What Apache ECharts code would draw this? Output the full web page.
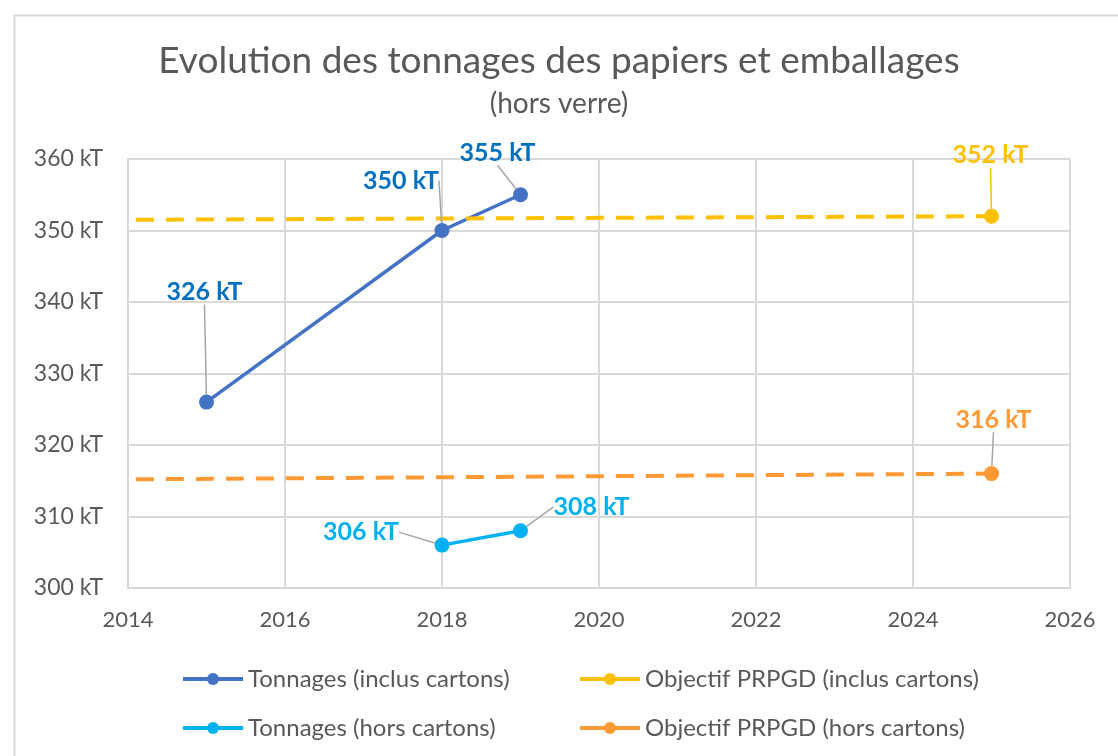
<!DOCTYPE html>
<html><head><meta charset="utf-8">
<script src="https://cdn.jsdelivr.net/npm/echarts@6/dist/echarts.min.js"></script>
<style>html,body{margin:0;padding:0;background:#fff}#c{width:1118px;height:756px}</style>
</head><body><div id="c"></div>
<script>
// ---- data ----
const yearsIncl = [2015, 2018, 2019];
const tonnIncl = [326, 350, 355];
const yearsHors = [2018, 2019];
const tonnHors = [306, 308];
const objYears = [2014.1, 2025];
const objIncl = [351.5, 352];
const objHors = [315.2, 316];
const xTicks = [2014, 2026, 2];
const yTicks = [300, 360, 10];
const names = ['Tonnages (inclus cartons)', 'Objectif PRPGD (inclus cartons)', 'Tonnages (hors cartons)', 'Objectif PRPGD (hors cartons)'];

const FONT = 'Lato';
const gray = '#595959';

function pairs(xs, ys) { return xs.map((x, i) => [x, ys[i]]); }
function objData(ys) {
  return objYears.map((x, i) => i === 0
    ? { value: [x, ys[i]], symbol: 'none', label: { show: false }, labelLine: { show: false } }
    : { value: [x, ys[i]] });
}
function lbl(color) {
  return { show: true, position: 'inside', color: color, fontFamily: FONT, fontWeight: 'bold', fontSize: 25,
    formatter: p => p.value[1] + ' kT' };
}
function layoutFn(offs) {
  return function (p) { const o = offs[p.dataIndex]; return o ? { dx: o[0], dy: o[1] } : {}; };
}
const leader = { show: true, lineStyle: { color: '#a6a6a6', width: 1.5 } };
const legendText = { fontFamily: FONT, fontSize: 24, color: gray };

const chart = echarts.init(document.getElementById('c'), null, { renderer: 'canvas' });
chart.setOption({
  animation: false,
  backgroundColor: '#fff',
  graphic: [{ type: 'rect', left: 12, top: 13, shape: { width: 1200, height: 800 }, style: { fill: 'none', stroke: '#d9d9d9', lineWidth: 2 } }],
  title: [
    { text: 'Evolution des tonnages des papiers et emballages', left: 'center', top: 43, padding: 0, textStyle: { fontFamily: FONT, fontWeight: 'normal', fontSize: 37, color: gray } },
    { text: '(hors verre)', left: 'center', top: 90, padding: 0, textStyle: { fontFamily: FONT, fontWeight: 'normal', fontSize: 28, color: gray } }
  ],
  legend: [
    { data: [names[0], names[2]], orient: 'vertical', left: 181, top: 667, padding: 0, itemGap: 25, itemWidth: 60, itemHeight: 15,
      lineStyle: { type: 'solid', width: 4 }, textStyle: legendText },
    { data: [names[1], names[3]], orient: 'vertical', left: 578, top: 667, padding: 0, itemGap: 25, itemWidth: 60, itemHeight: 15,
      lineStyle: { type: 'solid', width: 4 }, textStyle: legendText }
  ],
  grid: { left: 128, right: 48, top: 159, bottom: 168, containLabel: false },
  xAxis: {
    type: 'value', min: xTicks[0], max: xTicks[1], interval: xTicks[2],
    axisLine: { show: true, lineStyle: { color: '#d9d9d9', width: 2 } },
    axisTick: { show: false },
    splitLine: { show: true, lineStyle: { color: '#d9d9d9', width: 2 } },
    axisLabel: { fontFamily: FONT, fontSize: 22, color: gray, margin: 21, formatter: v => String(v) }
  },
  yAxis: {
    type: 'value', min: yTicks[0], max: yTicks[1], interval: yTicks[2],
    axisLine: { show: true, lineStyle: { color: '#d9d9d9', width: 2 } },
    axisTick: { show: false },
    splitLine: { show: true, lineStyle: { color: '#d9d9d9', width: 2 } },
    axisLabel: { fontFamily: FONT, fontSize: 23, color: gray, margin: 25, formatter: v => v + ' kT' }
  },
  series: [
    { name: names[0], type: 'line', data: pairs(yearsIncl, tonnIncl), color: '#4472C4',
      lineStyle: { width: 3.5 }, symbol: 'circle', symbolSize: 15,
      label: lbl('#0070C0'), labelLine: leader,
      labelLayout: layoutFn([[-2, -110], [-41, -50], [-23, -42]]) },
    { name: names[1], type: 'line', data: objData(objIncl), color: '#FFC000',
      lineStyle: { width: 4, type: [18, 12] }, symbol: 'circle', symbolSize: 15,
      label: lbl('#FFC000'), labelLine: { show: true, lineStyle: { color: '#FFC000', width: 1.5 } },
      labelLayout: layoutFn([null, [-1, -61]]) },
    { name: names[2], type: 'line', data: pairs(yearsHors, tonnHors), color: '#00B0F0',
      lineStyle: { width: 3.5 }, symbol: 'circle', symbolSize: 15,
      label: lbl('#00B0F0'), labelLine: leader,
      labelLayout: layoutFn([[-81, -13], [71, -24]]) },
    { name: names[3], type: 'line', data: objData(objHors), color: '#FF9933',
      lineStyle: { width: 4, type: [18, 12] }, symbol: 'circle', symbolSize: 15,
      label: lbl('#FF9933'), labelLine: leader,
      labelLayout: layoutFn([null, [2, -54]]) }
  ]
});
</script></body></html>
